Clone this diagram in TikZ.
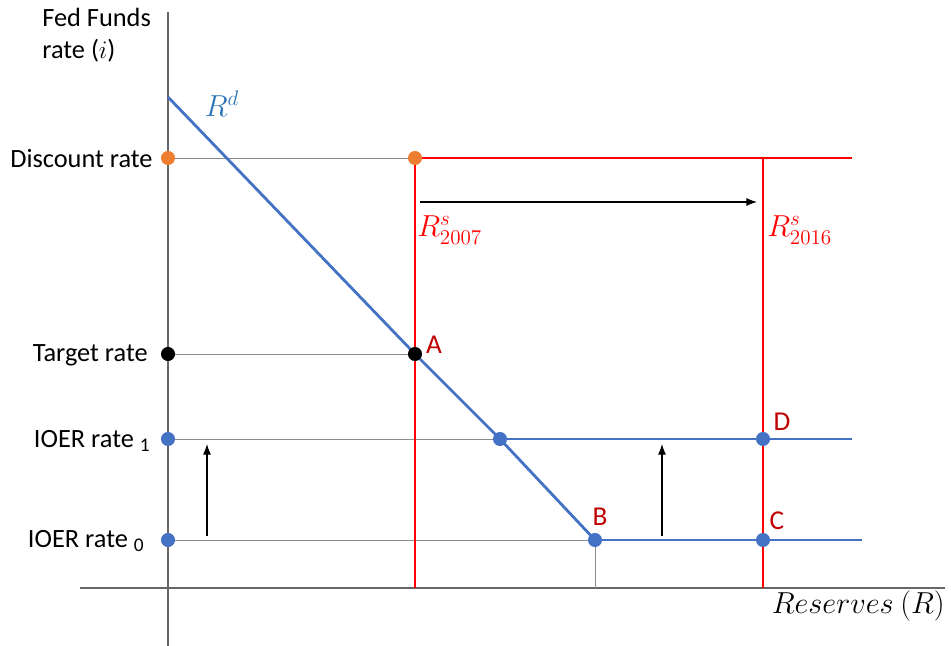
\documentclass[tikz,border=0pt]{standalone}
\usepackage{fontspec}
\setmainfont{Carlito}
\usetikzlibrary{arrows.meta}
\definecolor{dblue}{HTML}{4472C4}
\definecolor{lblue}{HTML}{2E75B6}
\definecolor{dorange}{HTML}{ED7D31}
\definecolor{dred}{HTML}{C00000}

\begin{document}
\begin{tikzpicture}[x=0.02cm,y=-0.02cm,every node/.style={font=\fontsize{15}{18}\selectfont},
    axis/.style={draw=black!60,line width=0.9pt},
    guide/.style={draw=black!45,line width=0.45pt},
    supply/.style={draw=red,line width=1.7pt},
    demand/.style={draw=dblue,line width=1.6pt},
    shiftarrow/.style={draw=black,line width=0.6pt,-{Latex[length=6pt,width=4.5pt]}},
    dot/.style={circle,inner sep=0pt,minimum size=8pt},
    pt/.style={text=dred,font=\fontsize{15.5}{18}\selectfont}]
  \useasboundingbox (0,0) rectangle (951,646);
  % axes
  \coordinate (ytop) at (168,12);
  \coordinate (ybot) at (168,646);
  \coordinate (xl) at (80,588);
  \coordinate (xr) at (945,588);
  \draw[axis] (ytop) -- (ybot);
  \draw[axis] (xl) -- (xr);
  % points
  \coordinate (disc) at (168,158);
  \coordinate (s07) at (415,158);
  \coordinate (s16) at (763,158);
  \coordinate (send) at (852,158);
  \coordinate (s07b) at (415,588);
  \coordinate (s16b) at (763,588);
  \coordinate (targ) at (168,354);
  \coordinate (A) at (415,354);
  \coordinate (ioer1) at (168,439);
  \coordinate (kink1) at (500,439);
  \coordinate (D) at (763,439);
  \coordinate (end1) at (852,439);
  \coordinate (ioer0) at (168,540);
  \coordinate (B) at (595,540);
  \coordinate (C) at (763,540);
  \coordinate (end0) at (862,540);
  \coordinate (Bb) at (595,588);
  \coordinate (rd0) at (168,97);
  % guide lines
  \draw[guide] (disc) -- (s07);
  \draw[guide] (targ) -- (A);
  \draw[guide] (ioer1) -- (kink1);
  \draw[guide] (ioer0) -- (B);
  \draw[guide] (B) -- (Bb);
  % supply
  \draw[supply] (s07) -- (send);
  \draw[supply] (s07) -- (s07b);
  \draw[supply] (s16) -- (s16b);
  % demand
  \draw[demand] (rd0) -- (A) -- (kink1) -- (B);
  \draw[demand] (kink1) -- (end1);
  \draw[demand] (B) -- (end0);
  % shifts
  \coordinate (sh0) at (420,202);
  \coordinate (sh1) at (757,202);
  \coordinate (up0a) at (207,536);
  \coordinate (up0b) at (207,444);
  \coordinate (up1a) at (662,536);
  \coordinate (up1b) at (662,444);
  \draw[shiftarrow] (sh0) -- (sh1);
  \draw[shiftarrow] (up0a) -- (up0b);
  \draw[shiftarrow] (up1a) -- (up1b);
  % dots
  \node[dot,fill=dorange] (discdot) at (disc) {};
  \node[dot,fill=dorange] (s07dot) at (s07) {};
  \node[dot,fill=black] (targdot) at (targ) {};
  \node[dot,fill=black] (Adot) at (A) {};
  \node[dot,fill=dblue] (ioer1dot) at (ioer1) {};
  \node[dot,fill=dblue] (kink1dot) at (kink1) {};
  \node[dot,fill=dblue] (Ddot) at (D) {};
  \node[dot,fill=dblue] (ioer0dot) at (ioer0) {};
  \node[dot,fill=dblue] (Bdot) at (B) {};
  \node[dot,fill=dblue] (Cdot) at (C) {};
  % labels
  \node[anchor=north west,align=left,inner sep=0pt] (ylab) at (42,8) {Fed Funds\\rate ($i$)};
  \node[anchor=east,inner sep=0pt] (disclab) at (153,159) {Discount rate};
  \node[anchor=east,inner sep=0pt] (targlab) at (148,355) {Target rate};
  \node[anchor=east,inner sep=0pt] (ioer1lab) at (150,441) {IOER rate \raisebox{-0.3ex}{\fontsize{11}{12}\selectfont 1}};
  \node[anchor=east,inner sep=0pt] (ioer0lab) at (144,541) {IOER rate \raisebox{-0.3ex}{\fontsize{11}{12}\selectfont 0}};
  \node[text=lblue,font=\fontsize{17}{20}\selectfont] (rdlab) at (222,104) {$R^d$};
  \node[anchor=west,text=red,inner sep=0pt,font=\fontsize{17}{20}\selectfont] (s07lab) at (417,230) {$R^s_{2007}$};
  \node[anchor=west,text=red,inner sep=0pt,font=\fontsize{17}{20}\selectfont] (s16lab) at (767,230) {$R^s_{2016}$};
  \node[pt] (Alab) at (434,345) {A};
  \node[pt] (Blab) at (600,517) {B};
  \node[pt] (Clab) at (777,521) {C};
  \node[pt] (Dlab) at (782,422) {D};
  \node[anchor=east,inner sep=0pt,font=\fontsize{16.5}{19}\selectfont] (xlab) at (945,606) {$Reserves\ (R)$};
\end{tikzpicture}
\end{document}
